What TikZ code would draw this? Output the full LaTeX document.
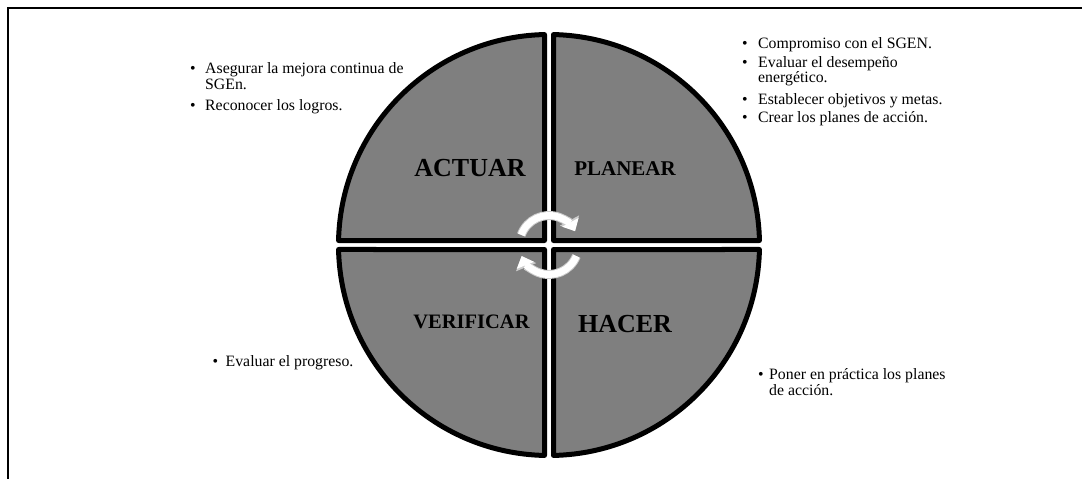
\documentclass[tikz,border=0pt]{standalone}
\usepackage{fontspec}
\setmainfont{Liberation Serif}
\usetikzlibrary{arrows.meta,calc}
\definecolor{qgray}{RGB}{127,127,127}
\newcommand\bul[1]{\makebox[#1][l]{•}}
\begin{document}
\begin{tikzpicture}[x=1pt,y=1pt,
  quad/.style={draw=black, line width=5pt, fill=qgray, line join=round},
  lblbig/.style={font=\fontsize{26}{26}\selectfont\bfseries, anchor=base, inner sep=0},
  lblsmall/.style={font=\fontsize{21}{21}\selectfont\bfseries, anchor=base, inner sep=0},
  txt/.style={font=\fontsize{15.8}{16}\selectfont, anchor=base west, inner sep=0},
  cycout/.style={draw=gray!40, line width=9pt, -{Triangle[width=21pt,length=12pt]}},
  cycin/.style={draw=white, line width=7pt, -{Triangle[width=18pt,length=10pt]}},
  frame/.style={line width=1.5pt, draw=black}
]
\useasboundingbox (0,0) rectangle (1082,-479);
\draw[frame] (8,-479) -- (8,-8) -- (1082,-8);

% quadrants
\def\R{210.5}
\def\d{4.5}
\def\a{1.225}
\draw[quad, shift={(549,-245)}] (\d,\d) -- (90-\a:\R) arc[start angle=90-\a, end angle=\a, radius=\R] -- cycle;
\draw[quad, shift={(549,-245)}] (-\d,\d) -- (180-\a:\R) arc[start angle=180-\a, end angle=90+\a, radius=\R] -- cycle;
\draw[quad, shift={(549,-245)}] (-\d,-\d) -- (180+\a:\R) arc[start angle=180+\a, end angle=270-\a, radius=\R] -- cycle;
\draw[quad, shift={(549,-245)}] (\d,-\d) -- (270+\a:\R) arc[start angle=270+\a, end angle=360-\a, radius=\R] -- cycle;

% labels
\node[lblbig] (actuar) at (470,-176) {ACTUAR};
\node[lblsmall] (planear) at (625,-175) {PLANEAR};
\node[lblsmall, font=\fontsize{20.5}{20.5}\selectfont\bfseries] (verificar) at (471.5,-328) {VERIFICAR};
\node[lblbig] (hacer) at (625,-332) {HACER};

% cycle arrows
\coordinate (cc) at (549,-245);
\draw[cycout] (cc) ++(160:29.5) arc[start angle=160, end angle=28, radius=29.5];
\draw[cycin] (cc) ++(160:29.5) arc[start angle=160, end angle=28, radius=29.5];
\draw[cycout] (cc) ++(-22:29.5) arc[start angle=-22, end angle=-158, radius=29.5];
\draw[cycin] (cc) ++(-22:29.5) arc[start angle=-22, end angle=-158, radius=29.5];

% ACTUAR text
\node[txt] (a1) at (190,-73.3) {\bul{15pt}Asegurar la mejora continua de};
\node[txt] (a1b) at (205,-89.3) {SGEn.};
\node[txt] (a2) at (190,-110) {\bul{15pt}Reconocer los logros.};

% PLANEAR text
\node[txt] (p1) at (742,-48.7) {\bul{16pt}Compromiso con el SGEN.};
\node[txt] (p2) at (742,-67.3) {\bul{16pt}Evaluar el desempeño};
\node[txt] (p2b) at (758,-82.7) {energético.};
\node[txt] (p3) at (742,-104) {\bul{16pt}Establecer objetivos y metas.};
\node[txt] (p4) at (742,-122.7) {\bul{16pt}Crear los planes de acción.};

% VERIFICAR text
\node[txt] (v1) at (212.5,-366.5) {\bul{13pt}Evaluar el progreso.};

% HACER text
\node[txt] (h1) at (758,-379) {\bul{11pt}Poner en práctica los planes};
\node[txt] (h1b) at (769,-395) {de acción.};
\end{tikzpicture}
\end{document}
